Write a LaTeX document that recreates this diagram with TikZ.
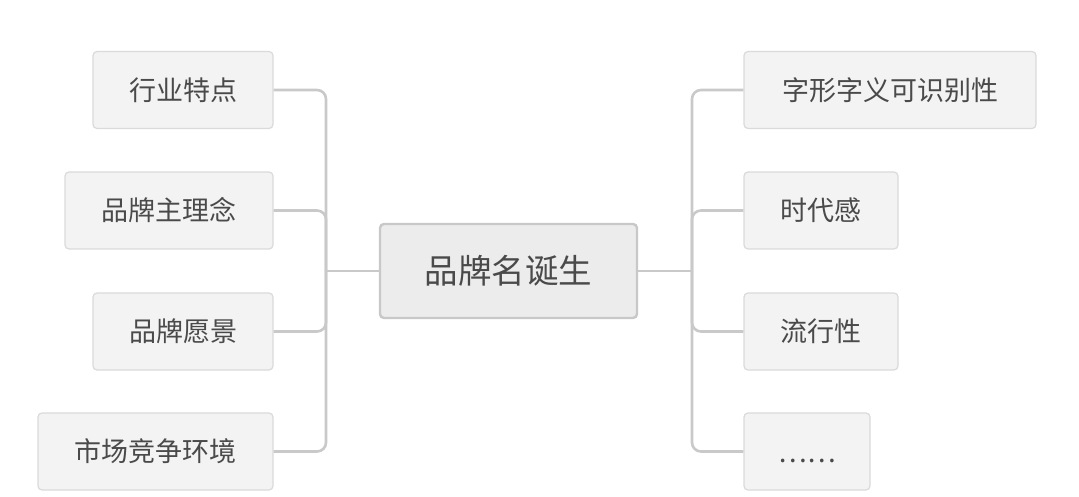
\documentclass[tikz,border=0pt]{standalone}
\usepackage{fontspec}
\setmainfont{Noto Sans CJK SC}
\begin{document}
\begin{tikzpicture}[x=1pt,y=-1pt,
  leaf/.style={draw=boxline, fill=boxfill, rounded corners=4pt, line width=1.2pt,
    minimum height=77pt, inner sep=0pt, text=txt, font=\fontsize{27}{31}\selectfont},
  root/.style={draw=rootline, fill=rootfill, rounded corners=4pt, line width=2.4pt,
    minimum width=257pt, minimum height=94pt, inner sep=0pt, text=txt, font=\fontsize{33.5}{38}\selectfont},
  conn/.style={draw=linec, line width=2.6pt, rounded corners=9pt}]
\definecolor{boxline}{HTML}{DADADA}
\definecolor{boxfill}{HTML}{F3F3F3}
\definecolor{rootline}{HTML}{C8C8C8}
\definecolor{rootfill}{HTML}{ECECEC}
\definecolor{txt}{HTML}{4A4A4A}
\definecolor{linec}{HTML}{C9C9C9}
\useasboundingbox (0,0) rectangle (1079,497);
\node[root] (C) at (508.5,271) {品牌名诞生};
\node[leaf, minimum width=180pt] (L1) at (183,90) {行业特点};
\node[leaf, minimum width=208pt] (L2) at (169,210.5) {品牌主理念};
\node[leaf, minimum width=180pt] (L3) at (183,331.5) {品牌愿景};
\node[leaf, minimum width=235pt] (L4) at (155.5,451.5) {市场竞争环境};
\node[leaf, minimum width=292pt] (R1) at (890,90) {字形字义可识别性};
\node[leaf, minimum width=154pt] (R2) at (821,210.5) {时代感};
\node[leaf, minimum width=154pt] (R3) at (821,331.5) {流行性};
\node[leaf, minimum width=126pt] (R4) at (807,451.5) {\raisebox{-11pt}[0pt][0pt]{……}};
\coordinate (sl) at (326,271);
\coordinate (sr) at (692,271);
\foreach \n in {L1,L2,L3,L4} \draw[conn] (\n.east) -| (sl);
\foreach \n in {R1,R2,R3,R4} \draw[conn] (\n.west) -| (sr);
\draw[conn] (sl) -- (C.west);
\draw[conn] (C.east) -- (sr);
\end{tikzpicture}
\end{document}
